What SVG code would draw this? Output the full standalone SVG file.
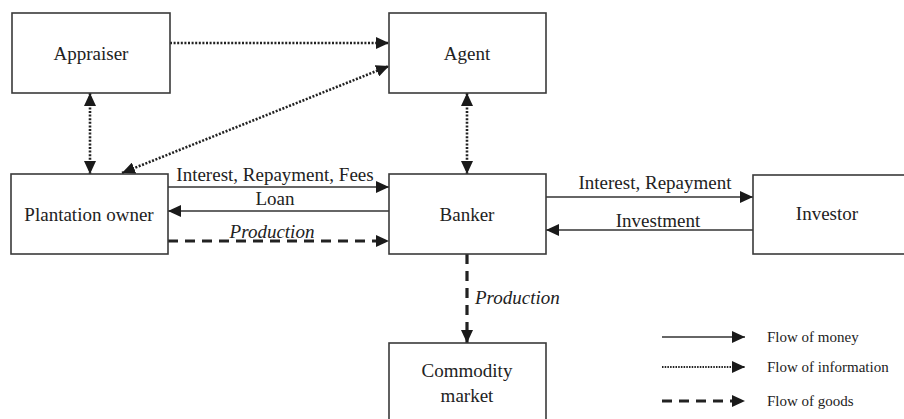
<svg xmlns="http://www.w3.org/2000/svg" width="904" height="419" viewBox="0 0 904 419" font-family="'Liberation Serif', 'Times New Roman', serif">
<defs>
<marker id="ah" markerUnits="userSpaceOnUse" markerWidth="14" markerHeight="12" refX="13" refY="6" orient="auto-start-reverse">
<path d="M0,0 L13,6 L0,12 Z" fill="#1a1a1a"/>
</marker>
</defs>
<style>
.box{fill:#fff;stroke:#3a3a3a;stroke-width:1.6}
.lbl{font-size:19px;fill:#222}
.it{font-style:italic}
.leg{font-size:15px;fill:#222}
.money{stroke:#333;stroke-width:1.3;fill:none}
.info{stroke:#222;stroke-width:2.6;stroke-dasharray:2 1.6;fill:none}
.goods{stroke:#222;stroke-width:3.2;stroke-dasharray:10 7;fill:none}
</style>
<rect width="904" height="419" fill="#fff"/>
<g id="connectors">
<line class="info" x1="170" y1="43" x2="389" y2="43" marker-end="url(#ah)"/>
<line class="info" x1="90" y1="93" x2="90" y2="174" marker-start="url(#ah)" marker-end="url(#ah)"/>
<line class="info" x1="122" y1="173" x2="389" y2="66" marker-start="url(#ah)" marker-end="url(#ah)"/>
<line class="info" x1="467" y1="93" x2="467" y2="174" marker-start="url(#ah)" marker-end="url(#ah)"/>
<line class="money" x1="168" y1="187" x2="389" y2="187" marker-end="url(#ah)"/>
<line class="money" x1="389" y1="211" x2="168" y2="211" marker-end="url(#ah)"/>
<line class="goods" x1="168" y1="241" x2="389" y2="241" marker-end="url(#ah)"/>
<line class="money" x1="546" y1="197" x2="753" y2="197" marker-end="url(#ah)"/>
<line class="money" x1="753" y1="230" x2="546" y2="230" marker-end="url(#ah)"/>
<line class="goods" x1="467" y1="254" x2="467" y2="343" marker-end="url(#ah)"/>
<text class="lbl" font-family="Liberation Serif" text-anchor="middle" x="275" y="181">Interest, Repayment, Fees</text>
<text class="lbl" font-family="Liberation Serif" text-anchor="middle" x="275" y="205">Loan</text>
<text class="lbl it" font-family="Liberation Serif" text-anchor="middle" x="272" y="238">Production</text>
<text class="lbl" font-family="Liberation Serif" text-anchor="middle" x="655" y="189">Interest, Repayment</text>
<text class="lbl" font-family="Liberation Serif" text-anchor="middle" x="658" y="227">Investment</text>
<text class="lbl it" font-family="Liberation Serif" x="475" y="304">Production</text>
</g>
<g id="appraiser"><rect class="box" x="12" y="13" width="158" height="80"/><text class="lbl" font-family="Liberation Serif" text-anchor="middle" x="91" y="60">Appraiser</text></g>
<g id="agent"><rect class="box" x="389" y="13" width="157" height="80"/><text class="lbl" font-family="Liberation Serif" text-anchor="middle" x="467" y="60">Agent</text></g>
<g id="plantation"><rect class="box" x="11" y="174" width="157" height="80"/><text class="lbl" font-family="Liberation Serif" text-anchor="middle" x="89" y="221">Plantation owner</text></g>
<g id="banker"><rect class="box" x="389" y="174" width="157" height="80"/><text class="lbl" font-family="Liberation Serif" text-anchor="middle" x="467" y="221">Banker</text></g>
<g id="investor"><rect class="box" x="753" y="175" width="160" height="79"/><text class="lbl" font-family="Liberation Serif" text-anchor="middle" x="827" y="220">Investor</text></g>
<g id="commodity"><rect class="box" x="389" y="343" width="157" height="90"/><text class="lbl" font-family="Liberation Serif" text-anchor="middle" x="467" y="377">Commodity</text><text class="lbl" font-family="Liberation Serif" text-anchor="middle" x="467" y="402">market</text></g>
<g id="legend">
<line class="money" x1="662" y1="337" x2="745" y2="337" marker-end="url(#ah)"/>
<line class="info" style="stroke-width:1.8;stroke-dasharray:1.5 1.2" x1="662" y1="367" x2="745" y2="367" marker-end="url(#ah)"/>
<line class="goods" x1="662" y1="401" x2="745" y2="401" marker-end="url(#ah)"/>
<text class="leg" font-family="Liberation Serif" x="767" y="342">Flow of money</text>
<text class="leg" font-family="Liberation Serif" x="767" y="372">Flow of information</text>
<text class="leg" font-family="Liberation Serif" x="767" y="406">Flow of goods</text>
</g>
</svg>
